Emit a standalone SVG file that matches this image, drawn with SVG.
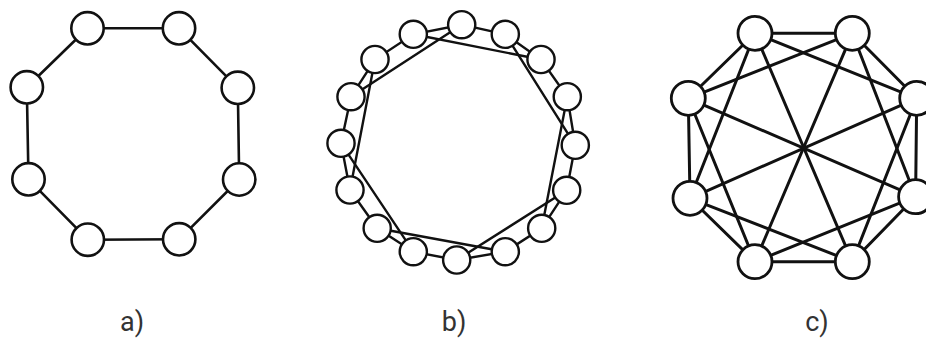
<svg xmlns="http://www.w3.org/2000/svg" width="926" height="338" viewBox="0 0 926 338">
<style>
.e{stroke:#111;fill:none;stroke-linecap:round}
.ea{stroke-width:2.6}
.eb{stroke-width:2.4}
.ec{stroke-width:3}
.n{fill:#fff;stroke:#111}
.na{stroke-width:2.6}
.nb{stroke-width:2.4}
.nc{stroke-width:2.8}
.lbl{font-family:Roboto,"Liberation Sans",sans-serif;font-size:27px;fill:#333;text-anchor:middle}
</style>
<rect width="926" height="338" fill="#fff"/>

<!-- Diagram a -->
<g id="a-edges" class="e ea">
<line x1="87.5" y1="28.3" x2="179" y2="28.3"/>
<line x1="179" y1="28.3" x2="237.8" y2="87.8"/>
<line x1="237.8" y1="87.8" x2="239.2" y2="179.5"/>
<line x1="239.2" y1="179.5" x2="179.2" y2="239.3"/>
<line x1="179.2" y1="239.3" x2="87.8" y2="239.7"/>
<line x1="87.8" y1="239.7" x2="28.5" y2="179.3"/>
<line x1="28.5" y1="179.3" x2="26.8" y2="87.3"/>
<line x1="26.8" y1="87.3" x2="87.5" y2="28.3"/>
</g>
<g id="a-n1"><circle class="n na" cx="87.5" cy="28.3" r="16.2"/></g>
<g id="a-n2"><circle class="n na" cx="179" cy="28.3" r="16.2"/></g>
<g id="a-n3"><circle class="n na" cx="237.8" cy="87.8" r="16.2"/></g>
<g id="a-n4"><circle class="n na" cx="239.2" cy="179.5" r="16.2"/></g>
<g id="a-n5"><circle class="n na" cx="179.2" cy="239.3" r="16.2"/></g>
<g id="a-n6"><circle class="n na" cx="87.8" cy="239.7" r="16.2"/></g>
<g id="a-n7"><circle class="n na" cx="28.5" cy="179.3" r="16.2"/></g>
<g id="a-n8"><circle class="n na" cx="26.8" cy="87.3" r="16.2"/></g>

<!-- Diagram b -->
<g id="b-edges" class="e eb">
<polygon points="461.7,24.7 505.3,34.3 541,59.5 567.3,96.7 575.3,145.3 566.7,190.3 541.7,228.3 505.3,251.7 456.7,260 413.3,251.7 377.2,228.3 350,190 341,143.3 351,96.7 375,59.5 413.3,34.3"/>
<line x1="505.3" y1="34.3" x2="575.3" y2="145.3"/>
<line x1="567.3" y1="96.7" x2="541.7" y2="228.3"/>
<line x1="566.7" y1="190.3" x2="456.7" y2="260"/>
<line x1="505.3" y1="251.7" x2="377.2" y2="228.3"/>
<line x1="413.3" y1="251.7" x2="341" y2="143.3"/>
<line x1="350" y1="190" x2="375" y2="59.5"/>
<line x1="351" y1="96.7" x2="461.7" y2="24.7"/>
<line x1="413.3" y1="34.3" x2="541" y2="59.5"/>
</g>
<g id="b-n0"><circle class="n nb" cx="461.7" cy="24.7" r="13.6"/></g>
<g id="b-n1"><circle class="n nb" cx="505.3" cy="34.3" r="13.6"/></g>
<g id="b-n2"><circle class="n nb" cx="541" cy="59.5" r="13.6"/></g>
<g id="b-n3"><circle class="n nb" cx="567.3" cy="96.7" r="13.6"/></g>
<g id="b-n4"><circle class="n nb" cx="575.3" cy="145.3" r="13.6"/></g>
<g id="b-n5"><circle class="n nb" cx="566.7" cy="190.3" r="13.6"/></g>
<g id="b-n6"><circle class="n nb" cx="541.7" cy="228.3" r="13.6"/></g>
<g id="b-n7"><circle class="n nb" cx="505.3" cy="251.7" r="13.6"/></g>
<g id="b-n8"><circle class="n nb" cx="456.7" cy="260" r="13.6"/></g>
<g id="b-n9"><circle class="n nb" cx="413.3" cy="251.7" r="13.6"/></g>
<g id="b-n10"><circle class="n nb" cx="377.2" cy="228.3" r="13.6"/></g>
<g id="b-n11"><circle class="n nb" cx="350" cy="190" r="13.6"/></g>
<g id="b-n12"><circle class="n nb" cx="341" cy="143.3" r="13.6"/></g>
<g id="b-n13"><circle class="n nb" cx="351" cy="96.7" r="13.6"/></g>
<g id="b-n14"><circle class="n nb" cx="375" cy="59.5" r="13.6"/></g>
<g id="b-n15"><circle class="n nb" cx="413.3" cy="34.3" r="13.6"/></g>

<!-- Diagram c -->
<g id="c-edges" class="e ec">
<line x1="755" y1="33.3" x2="852.3" y2="33.3"/>
<line x1="852.3" y1="33.3" x2="916.7" y2="98.3"/>
<line x1="916.7" y1="98.3" x2="915.6" y2="196.7"/>
<line x1="915.6" y1="196.7" x2="852.3" y2="261.7"/>
<line x1="852.3" y1="261.7" x2="755" y2="261.7"/>
<line x1="755" y1="261.7" x2="690" y2="198.3"/>
<line x1="690" y1="198.3" x2="688.3" y2="98.3"/>
<line x1="688.3" y1="98.3" x2="755" y2="33.3"/>
<line x1="755" y1="33.3" x2="916.7" y2="98.3"/>
<line x1="852.3" y1="33.3" x2="915.6" y2="196.7"/>
<line x1="916.7" y1="98.3" x2="852.3" y2="261.7"/>
<line x1="915.6" y1="196.7" x2="755" y2="261.7"/>
<line x1="852.3" y1="261.7" x2="690" y2="198.3"/>
<line x1="755" y1="261.7" x2="688.3" y2="98.3"/>
<line x1="690" y1="198.3" x2="755" y2="33.3"/>
<line x1="688.3" y1="98.3" x2="852.3" y2="33.3"/>
<line x1="755" y1="33.3" x2="852.3" y2="261.7"/>
<line x1="852.3" y1="33.3" x2="755" y2="261.7"/>
<line x1="916.7" y1="98.3" x2="690" y2="198.3"/>
<line x1="915.6" y1="196.7" x2="688.3" y2="98.3"/>
</g>
<g id="c-n1"><circle class="n nc" cx="755" cy="33.3" r="17"/></g>
<g id="c-n2"><circle class="n nc" cx="852.3" cy="33.3" r="17"/></g>
<g id="c-n3"><circle class="n nc" cx="916.7" cy="98.3" r="17"/></g>
<g id="c-n4"><circle class="n nc" cx="915.6" cy="196.7" r="17"/></g>
<g id="c-n5"><circle class="n nc" cx="852.3" cy="261.7" r="17"/></g>
<g id="c-n6"><circle class="n nc" cx="755" cy="261.7" r="17"/></g>
<g id="c-n7"><circle class="n nc" cx="690" cy="198.3" r="17"/></g>
<g id="c-n8"><circle class="n nc" cx="688.3" cy="98.3" r="17"/></g>

<g id="labels">
<text class="lbl" x="132" y="331">a)</text>
<text class="lbl" x="454" y="331">b)</text>
<text class="lbl" x="817" y="331">c)</text>
</g>
</svg>
